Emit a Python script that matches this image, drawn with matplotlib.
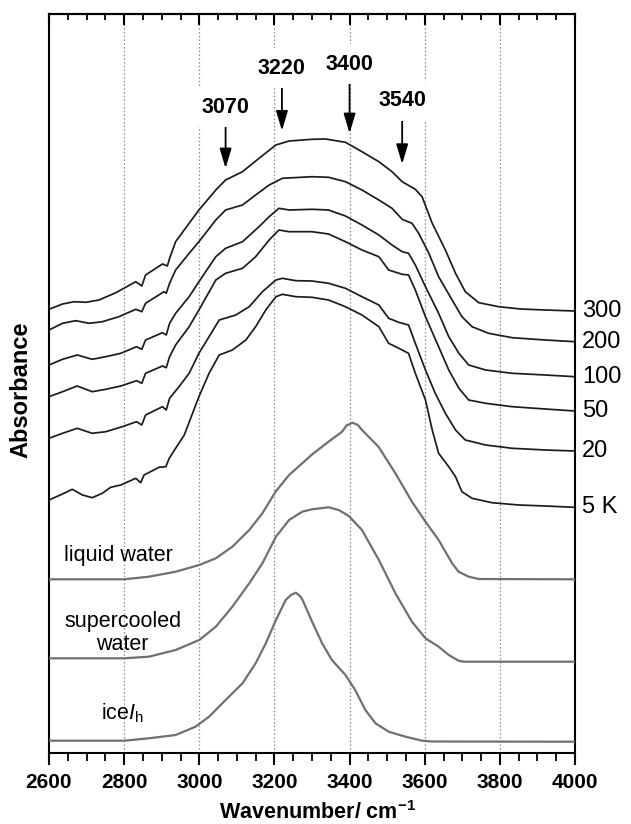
import matplotlib
matplotlib.use("Agg")
import matplotlib.pyplot as plt
from matplotlib.ticker import MultipleLocator

plt.rcParams['mathtext.fontset'] = 'custom'
plt.rcParams['mathtext.rm'] = 'Liberation Sans'
plt.rcParams['mathtext.it'] = 'Liberation Sans:italic'
plt.rcParams['mathtext.bf'] = 'Liberation Sans:bold'

# ---------------- data (wavenumber in cm-1, absorbance in arbitrary offset units) ----------------
wn_300 = [2600, 2636, 2667, 2698, 2733, 2778, 2831, 2847, 2857, 2902, 2915, 2921, 2937, 2973, 2999,
          3044, 3070, 3115, 3159, 3204, 3239, 3300, 3336, 3389, 3433, 3478, 3513, 3540, 3575, 3593,
          3620, 3655, 3682, 3708, 3744, 3797, 3855, 3921, 4000]
ab_300 = [4.437, 4.49, 4.513, 4.507, 4.53, 4.603, 4.713, 4.67, 4.78, 4.89, 4.87, 4.947, 5.113, 5.297, 5.43,
          5.63, 5.73, 5.813, 5.947, 6.08, 6.12, 6.137, 6.14, 6.107, 6.013, 5.913, 5.813, 5.713, 5.637, 5.563,
          5.297, 5.03, 4.797, 4.613, 4.503, 4.463, 4.44, 4.43, 4.42]

wn_200 = [2600, 2636, 2671, 2707, 2742, 2786, 2831, 2847, 2857, 2906, 2912, 2921, 2937, 2973, 2999,
          3044, 3070, 3115, 3150, 3186, 3221, 3300, 3344, 3389, 3433, 3478, 3513, 3540, 3566, 3584,
          3611, 3637, 3673, 3699, 3726, 3770, 3833, 3921, 4000]
ab_200 = [4.23, 4.297, 4.323, 4.297, 4.313, 4.363, 4.437, 4.413, 4.497, 4.613, 4.597, 4.697, 4.83, 4.997, 5.113,
          5.33, 5.43, 5.48, 5.58, 5.68, 5.747, 5.763, 5.757, 5.713, 5.63, 5.53, 5.447, 5.337, 5.297, 5.197,
          4.997, 4.763, 4.53, 4.363, 4.263, 4.197, 4.153, 4.13, 4.113]

wn_100 = [2600, 2636, 2675, 2715, 2751, 2791, 2833, 2847, 2857, 2902, 2912, 2921, 2937, 2973, 2999,
          3044, 3070, 3115, 3159, 3186, 3212, 3239, 3300, 3344, 3389, 3433, 3478, 3513, 3540, 3557,
          3575, 3602, 3637, 3664, 3691, 3717, 3762, 3833, 3921, 4000]
ab_100 = [3.88, 3.937, 3.98, 3.937, 3.963, 3.997, 4.063, 4.037, 4.13, 4.203, 4.18, 4.297, 4.397, 4.563, 4.713,
          4.963, 5.047, 5.113, 5.263, 5.363, 5.447, 5.43, 5.437, 5.43, 5.37, 5.28, 5.18, 5.08, 5.013, 4.997,
          4.88, 4.663, 4.397, 4.163, 3.997, 3.88, 3.83, 3.797, 3.78, 3.763]

wn_50 = [2600, 2636, 2675, 2715, 2751, 2791, 2833, 2847, 2857, 2902, 2912, 2921, 2937, 2973, 2999,
         3044, 3070, 3115, 3150, 3186, 3212, 3239, 3300, 3344, 3389, 3433, 3478, 3504, 3540, 3557,
         3575, 3602, 3637, 3664, 3691, 3717, 3762, 3833, 3921, 4000]
ab_50 = [3.563, 3.613, 3.67, 3.613, 3.637, 3.67, 3.723, 3.697, 3.797, 3.87, 3.853, 3.963, 4.08, 4.263, 4.43,
         4.73, 4.797, 4.847, 4.963, 5.13, 5.23, 5.213, 5.213, 5.19, 5.113, 5.03, 4.963, 4.83, 4.787, 4.78,
         4.63, 4.363, 4.063, 3.83, 3.647, 3.53, 3.497, 3.463, 3.44, 3.42]

wn_20 = [2600, 2636, 2675, 2715, 2751, 2795, 2833, 2847, 2857, 2902, 2912, 2921, 2946, 2973, 2999,
         3026, 3053, 3097, 3133, 3168, 3204, 3221, 3257, 3300, 3344, 3389, 3433, 3478, 3504, 3531,
         3557, 3575, 3602, 3628, 3655, 3682, 3708, 3762, 3833, 3921, 4000]
ab_20 = [3.147, 3.197, 3.247, 3.197, 3.213, 3.263, 3.313, 3.28, 3.38, 3.463, 3.43, 3.547, 3.663, 3.797, 3.997,
         4.163, 4.33, 4.38, 4.463, 4.613, 4.73, 4.747, 4.723, 4.72, 4.697, 4.647, 4.563, 4.48, 4.347, 4.307,
         4.28, 4.097, 3.83, 3.597, 3.397, 3.23, 3.13, 3.08, 3.047, 3.03, 3.02]

wn_5 = [2600, 2636, 2662, 2689, 2715, 2742, 2764, 2791, 2831, 2844, 2853, 2893, 2911, 2920, 2937, 2960,
        2999, 3026, 3053, 3088, 3124, 3150, 3177, 3204, 3221, 3257, 3300, 3344, 3389, 3433, 3478, 3504,
        3531, 3557, 3575, 3602, 3620, 3637, 3664, 3682, 3699, 3726, 3779, 3850, 3921, 4000]
ab_5 = [2.53, 2.59, 2.637, 2.58, 2.553, 2.597, 2.657, 2.68, 2.747, 2.703, 2.78, 2.857, 2.863, 2.947, 3.047, 3.18,
        3.563, 3.797, 3.98, 4.03, 4.13, 4.263, 4.43, 4.563, 4.587, 4.563, 4.557, 4.53, 4.463, 4.38, 4.263, 4.097,
        4.047, 3.997, 3.797, 3.53, 3.23, 2.997, 2.863, 2.763, 2.613, 2.547, 2.503, 2.48, 2.47, 2.457]

wn_liq = [2600, 2800, 2866, 2937, 3000, 3044, 3088, 3133, 3168, 3203, 3239, 3274, 3300, 3344, 3380, 3392,
          3408, 3422, 3433, 3477, 3522, 3566, 3602, 3637, 3673, 3690, 3717, 3744, 4000]
ab_liq = [1.737, 1.737, 1.763, 1.813, 1.88, 1.947, 2.063, 2.23, 2.397, 2.613, 2.78, 2.897, 2.985, 3.113, 3.213, 3.275,
          3.303, 3.28, 3.23, 3.063, 2.797, 2.513, 2.313, 2.13, 1.897, 1.813, 1.763, 1.74, 1.737]

wn_sc = [2600, 2800, 2866, 2937, 3000, 3044, 3088, 3133, 3168, 3204, 3239, 3274, 3300, 3344, 3371, 3398,
         3433, 3478, 3522, 3566, 3602, 3637, 3664, 3690, 3705, 4000]
ab_sc = [0.947, 0.947, 0.963, 1.03, 1.13, 1.263, 1.463, 1.697, 1.897, 2.163, 2.33, 2.413, 2.437, 2.457, 2.43, 2.37,
         2.23, 1.93, 1.597, 1.313, 1.147, 1.063, 0.98, 0.923, 0.913, 0.913]

wn_ice = [2600, 2800, 2866, 2937, 2990, 3026, 3070, 3115, 3150, 3177, 3204, 3230, 3244, 3257, 3268, 3275,
          3300, 3327, 3353, 3389, 3415, 3442, 3469, 3504, 3549, 3593, 3620, 4000]
ab_ice = [0.123, 0.123, 0.147, 0.18, 0.263, 0.363, 0.53, 0.697, 0.897, 1.097, 1.33, 1.53, 1.58, 1.603, 1.57, 1.53,
          1.315, 1.097, 0.93, 0.78, 0.63, 0.43, 0.297, 0.213, 0.163, 0.123, 0.115, 0.113]

temp_labels = ['300', '200', '100', '50', '20', '5 K']
ref_labels = ['liquid water', 'supercooled\nwater', r'ice$\mathit{I}_\mathrm{h}$']
peak_positions = [3070, 3220, 3400, 3540]
peak_labels = ['3070', '3220', '3400', '3540']
x_ticks = [2600, 2800, 3000, 3200, 3400, 3600, 3800, 4000]

# ---------------- figure ----------------
W, H = 631, 824
fig = plt.figure(figsize=(W / 100, H / 100), dpi=100)
ax = fig.add_axes([49 / W, 1 - 753 / H, 526 / W, 739 / H])
ax.set_xlim(2600, 4000)
ax.set_ylim(0, 7.39)
ax.set_yticks([])

for s in ax.spines.values():
    s.set_linewidth(1.5)
    s.set_color('black')

# dotted vertical grid
for g in x_ticks[1:-1]:
    ax.axvline(g, color='#8c8c8c', lw=0.9, ls=(0, (1.2, 1.8)), zorder=0)

ax.set_xticks(x_ticks)
ax.xaxis.set_minor_locator(MultipleLocator(50))
ax.tick_params(axis='x', which='major', direction='out', length=8.5, width=1.5, pad=6)
ax.tick_params(axis='x', which='minor', direction='out', length=5.5, width=1.3)
for lab in ax.get_xticklabels():
    lab.set_fontfamily('Liberation Sans')
    lab.set_fontweight('bold')
    lab.set_fontsize(15)

sec = ax.secondary_xaxis('top')
sec.set_xticks(x_ticks)
sec.xaxis.set_minor_locator(MultipleLocator(50))
sec.tick_params(axis='x', which='major', direction='in', length=8, width=1.5, labeltop=False)
sec.tick_params(axis='x', which='minor', direction='in', length=4.5, width=1.3)
sec.spines['top'].set_linewidth(1.5)

# temperature-dependent spectra
temp_series = [(wn_300, ab_300), (wn_200, ab_200), (wn_100, ab_100),
               (wn_50, ab_50), (wn_20, ab_20), (wn_5, ab_5)]
for (wn, ab), lab in zip(temp_series, temp_labels):
    ax.plot(wn, ab, color='#1c1c1c', lw=1.25, zorder=3)
    ax.text(4019, ab[-1], lab, fontsize=17, family='Liberation Sans', va='center', ha='left',
            clip_on=False)

# reference spectra
ref_series = [(wn_liq, ab_liq), (wn_sc, ab_sc), (wn_ice, ab_ice)]
for wn, ab in ref_series:
    ax.plot(wn, ab, color='#707070', lw=1.6, zorder=3)

ax.text(2786, 1.98, ref_labels[0], fontsize=15.5, family='Liberation Sans', ha='center', va='center')
ax.text(2796, 1.20, ref_labels[1], fontsize=15.5, family='Liberation Sans', ha='center', va='center',
        linespacing=1.1)
ax.text(2796, 0.40, ref_labels[2], fontsize=15.5, family='Liberation Sans', ha='center', va='center')

# peak arrows
label_y = [6.457, 6.847, 6.887, 6.523]
tail_y = [6.313, 6.697, 6.713, 6.347]
head_y = [5.847, 6.223, 6.197, 5.89]
for w, lab, ly, ty, hy in zip(peak_positions, peak_labels, label_y, tail_y, head_y):
    ax.annotate('', xy=(w, hy), xytext=(w, ty),
                arrowprops=dict(arrowstyle='-|>,head_length=0.6,head_width=0.18',
                                mutation_scale=20, lw=1.3, color='black',
                                shrinkA=0, shrinkB=0), zorder=5)
    ax.text(w, ly, lab, fontsize=15.5, family='Liberation Sans', fontweight='bold',
            ha='center', va='center', zorder=6,
            bbox=dict(boxstyle='square,pad=0.45', fc='white', ec='none'))

# axis titles
fig.text(21 / W, 1 - 390 / H, 'Absorbance', rotation=90, fontsize=17, family='Liberation Sans',
         fontweight='bold', ha='center', va='center')
fig.text(219 / W, 1 - 819 / H, r'Wavenumber/ cm$^{\mathbf{-1}}$', fontsize=15.5, family='Liberation Sans',
         fontweight='bold', ha='left', va='baseline')

fig.savefig('out.png', dpi=100)
